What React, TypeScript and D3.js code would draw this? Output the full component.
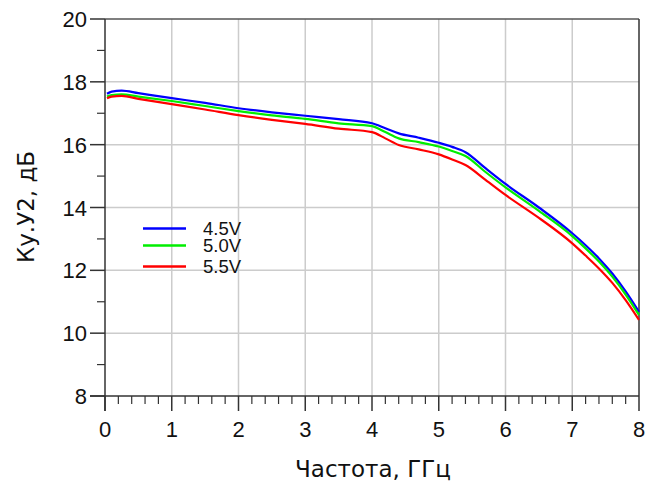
import React from "react";
import * as d3 from "d3";

const freq = [0.03, 0.1, 0.25, 0.5, 1.0, 1.5, 2.0, 2.5, 3.0, 3.5, 4.0, 4.2, 4.4, 4.7, 5.0, 5.2, 5.4, 5.7, 6.0, 6.5, 7.0, 7.2, 7.4, 7.6, 7.8, 8.0];
const s45 = [17.62, 17.69, 17.72, 17.64, 17.48, 17.33, 17.16, 17.03, 16.92, 16.81, 16.68, 16.52, 16.36, 16.22, 16.06, 15.93, 15.76, 15.25, 14.75, 14.0, 13.18, 12.8, 12.38, 11.9, 11.33, 10.68];
const s50 = [17.53, 17.58, 17.60, 17.53, 17.39, 17.23, 17.07, 16.93, 16.82, 16.68, 16.59, 16.40, 16.20, 16.08, 15.94, 15.80, 15.64, 15.13, 14.64, 13.89, 13.09, 12.7, 12.28, 11.8, 11.23, 10.58];
const s55 = [17.48, 17.53, 17.55, 17.46, 17.29, 17.12, 16.94, 16.79, 16.66, 16.51, 16.40, 16.20, 15.99, 15.85, 15.69, 15.53, 15.35, 14.88, 14.40, 13.67, 12.86, 12.47, 12.06, 11.6, 11.05, 10.42];
const seriesNames = ["4.5V", "5.0V", "5.5V"];
const seriesColors = ["#0000ff", "#00ee00", "#ff0000"];
const xTicks = [0, 1, 2, 3, 4, 5, 6, 7, 8];
const yTicks = [8, 10, 12, 14, 16, 18, 20];

export default function App() {
  const W = 659, H = 484;
  const x = d3.scaleLinear().domain([0, 8]).range([105, 639]);
  const y = d3.scaleLinear().domain([8, 20]).range([396, 19]);
  const series = [s45, s50, s55];
  const line = d3.line<number>().x((_, i) => x(freq[i])).y((d) => y(d)).curve(d3.curveMonotoneX);
  const minorX = d3.range(0, 8.001, 0.2).filter((v) => Math.abs(v - Math.round(v)) > 1e-6);
  const minorY = d3.range(9, 20, 2);
  const font = "Liberation Sans, Arial, sans-serif";
  const titleFont = "DejaVu Sans, sans-serif";
  return (
    <svg width={W} height={H} style={{ position: "absolute", left: 0, top: 0 }} fontFamily={font}>
      <rect width={W} height={H} fill="#fff" />
      {xTicks.slice(1, -1).map((t) => (
        <line key={"gx" + t} x1={x(t)} x2={x(t)} y1={y(20)} y2={y(8)} stroke="#cccccc" strokeWidth={1.5} />
      ))}
      {yTicks.slice(1, -1).map((t) => (
        <line key={"gy" + t} x1={x(0)} x2={x(8)} y1={y(t)} y2={y(t)} stroke="#cccccc" strokeWidth={1.5} />
      ))}
      <line x1={x(0)} x2={x(8)} y1={y(20)} y2={y(20)} stroke="#555" strokeWidth={1.5} />
      <line x1={x(8)} x2={x(8)} y1={y(20)} y2={y(8)} stroke="#333" strokeWidth={1.5} />
      {series.map((s, i) => (
        <path key={i} d={line(s) || ""} fill="none" stroke={seriesColors[i]} strokeWidth={2.2} />
      ))}
      <line x1={x(0)} x2={x(0)} y1={y(20)} y2={y(8) + 15} stroke="#333" strokeWidth={1.5} />
      <line x1={x(0) - 15} x2={x(8)} y1={y(8)} y2={y(8)} stroke="#333" strokeWidth={1.5} />
      {xTicks.map((t) => (
        <g key={"xt" + t}>
          <line x1={x(t)} x2={x(t)} y1={y(8)} y2={y(8) + 15} stroke="#333" strokeWidth={1.5} />
          <text x={x(t)} y={y(8) + 41} textAnchor="middle" fontSize={22} fill="#111">{t}</text>
        </g>
      ))}
      {minorX.map((t) => (
        <line key={"mx" + t} x1={x(t)} x2={x(t)} y1={y(8)} y2={y(8) + 8} stroke="#333" strokeWidth={1.2} />
      ))}
      {yTicks.map((t) => (
        <g key={"yt" + t}>
          <line x1={x(0) - 15} x2={x(0)} y1={y(t)} y2={y(t)} stroke="#333" strokeWidth={1.5} />
          <text x={x(0) - 18} y={y(t) + 8} textAnchor="end" fontSize={22} fill="#111">{t}</text>
        </g>
      ))}
      {minorY.map((t) => (
        <line key={"my" + t} x1={x(0) - 8} x2={x(0)} y1={y(t)} y2={y(t)} stroke="#333" strokeWidth={1.2} />
      ))}
      <text x={373} y={477} textAnchor="middle" fontSize={23} fill="#111" fontFamily={titleFont}>Частота, ГГц</text>
      <text transform="translate(34,207) rotate(-90)" textAnchor="middle" fontSize={23} fill="#111" fontFamily={titleFont}>Ку.У2, дБ</text>
      {seriesNames.map((n, i) => {
        const ly = [228.5, 245.5, 266.5][i];
        return (
          <g key={n}>
            <line x1={143} x2={186} y1={ly} y2={ly} stroke={seriesColors[i]} strokeWidth={2.4} />
            <text x={203} y={ly + 6} fontSize={18.5} fill="#111">{n}</text>
          </g>
        );
      })}
    </svg>
  );
}
